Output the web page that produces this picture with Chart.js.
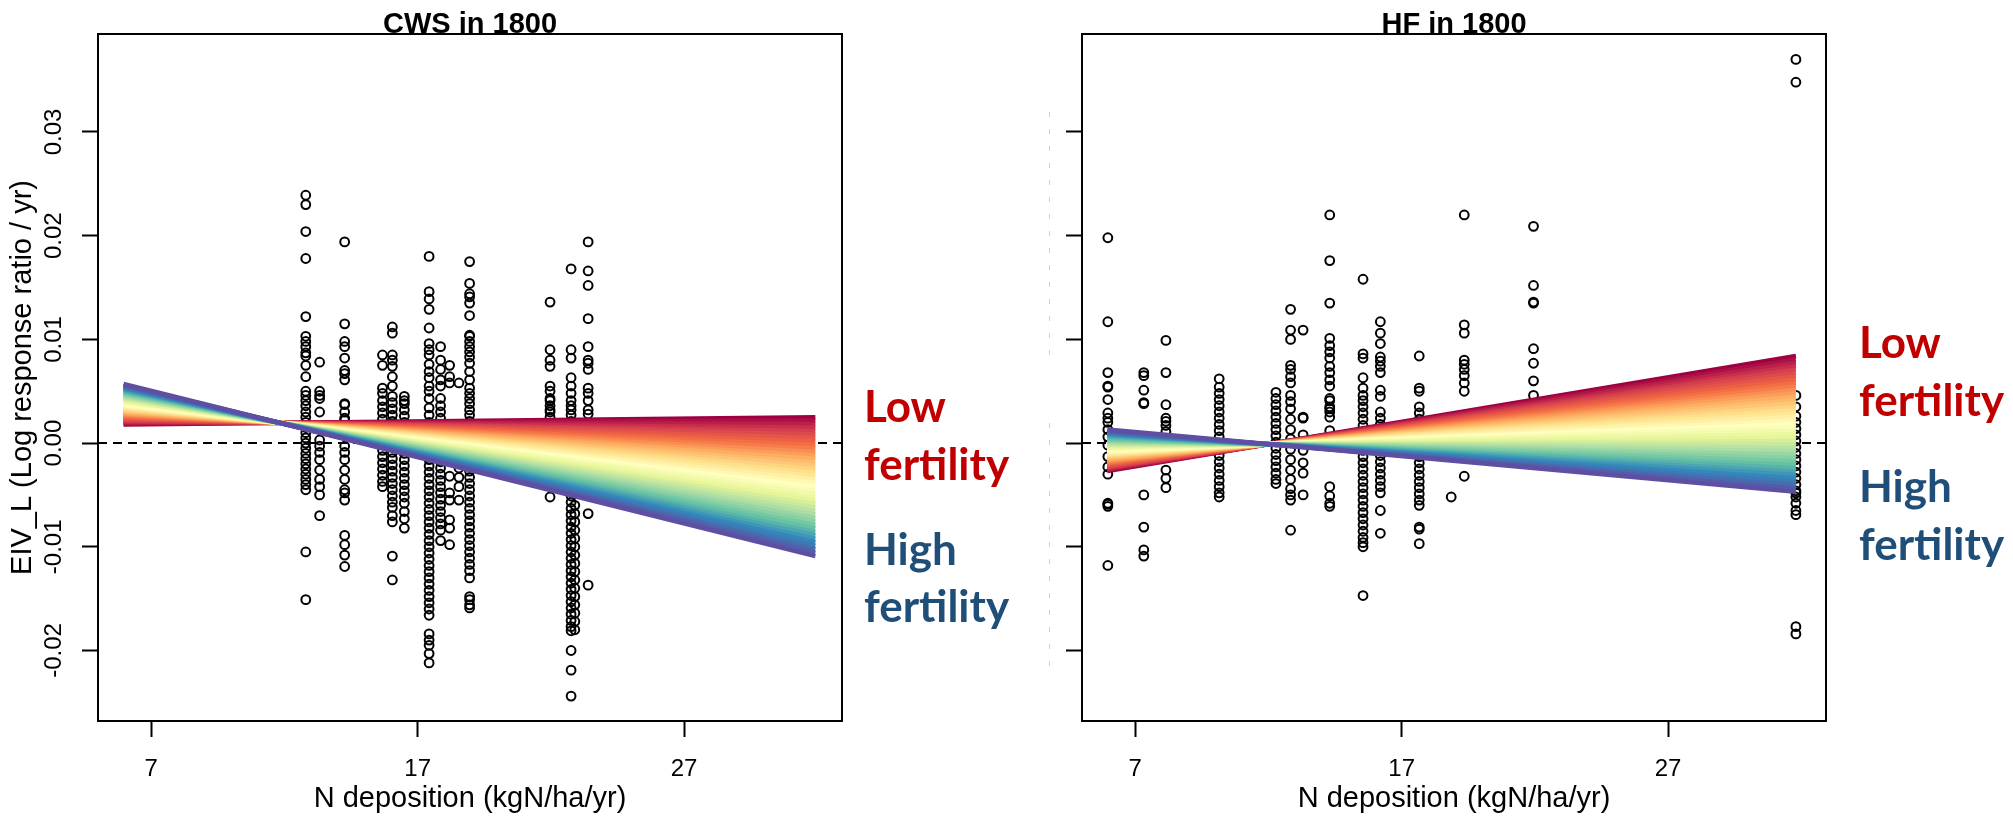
<!DOCTYPE html>
<html>
<head>
<meta charset="utf-8">
<script src="https://cdn.jsdelivr.net/npm/chart.js@4.4.1/dist/chart.umd.min.js"></script>
<style>
  html, body { margin: 0; padding: 0; background: #fff; }
  body { width: 2013px; height: 816px; position: relative; overflow: hidden; }
  canvas { position: absolute; top: 0; }
  #cws { left: 0; }
  #hf { left: 1040px; }
</style>
</head>
<body>
<canvas id="cws" width="1040" height="816"></canvas>
<canvas id="hf" width="973" height="816"></canvas>
<script>
// axes
const xTicks = [7, 17, 27];
const yTicks = [-0.02, -0.01, 0, 0.01, 0.02, 0.03];
const xRange = [5.0, 32.93];
const yRange = [-0.0268, 0.03945];

// CWS panel: plot columns (N deposition) and the log response ratios in each
const cwsColumns = [12.80, 13.32, 14.26, 15.68, 16.05, 16.50, 17.43, 17.86, 18.20, 18.55, 18.95, 21.97, 22.76, 22.90, 23.40];
const cwsValues = [
  [0.0239, 0.0230, 0.0204, 0.0178, 0.0122, 0.0103, 0.0098, 0.0093, 0.0087, 0.0084, 0.0075, 0.0064, 0.0050, 0.0046, 0.0041, 0.0036, 0.0030, 0.0025, 0.0020, 0.0015, 0.0010, 0.0005, 0.0000, -0.0005, -0.0010, -0.0015, -0.0020, -0.0025, -0.0030, -0.0035, -0.0040, -0.0045, -0.0105, -0.0151],
  [0.0078, 0.0050, 0.0046, 0.0043, 0.0030, 0.0003, -0.0003, -0.0009, -0.0016, -0.0026, -0.0035, -0.0042, -0.0050, -0.0070],
  [0.0194, 0.0115, 0.0098, 0.0093, 0.0082, 0.0070, 0.0067, 0.0061, 0.0038, 0.0030, 0.0024, 0.0037, 0.0022, 0.0009, -0.0003, -0.0009, -0.0016, -0.0026, -0.0035, -0.0045, -0.0048, -0.0055, -0.0089, -0.0098, -0.0108, -0.0119],
  [0.0085, 0.0075, 0.0053, 0.0048, 0.0041, 0.0035, 0.0029, 0.0023, 0.0017, 0.0011, 0.0005, -0.0001, -0.0007, -0.0013, -0.0019, -0.0025, -0.0031, -0.0037, -0.0042],
  [0.0112, 0.0106, 0.0085, 0.0080, 0.0074, 0.0064, 0.0055, 0.0045, 0.0039, 0.0033, 0.0027, 0.0021, 0.0015, 0.0009, 0.0003, -0.0003, -0.0009, -0.0015, -0.0021, -0.0027, -0.0033, -0.0039, -0.0045, -0.0051, -0.0057, -0.0062, -0.0070, -0.0076, -0.0109, -0.0132],
  [0.0045, 0.0041, 0.0038, 0.0032, 0.0026, 0.0020, 0.0014, 0.0008, 0.0002, -0.0004, -0.0010, -0.0016, -0.0022, -0.0028, -0.0034, -0.0040, -0.0046, -0.0052, -0.0058, -0.0066, -0.0073, -0.0082],
  [0.0180, 0.0146, 0.0139, 0.0129, 0.0111, 0.0096, 0.0090, 0.0085, 0.0076, 0.0069, 0.0063, 0.0055, 0.0050, 0.0043, 0.0034, 0.0027, 0.0020, 0.0014, 0.0008, 0.0002, -0.0004, -0.0010, -0.0016, -0.0022, -0.0028, -0.0034, -0.0040, -0.0046, -0.0052, -0.0058, -0.0064, -0.0070, -0.0076, -0.0082, -0.0088, -0.0094, -0.0100, -0.0106, -0.0112, -0.0118, -0.0124, -0.0130, -0.0136, -0.0142, -0.0148, -0.0154, -0.0160, -0.0166, -0.0184, -0.0190, -0.0195, -0.0203, -0.0212],
  [0.0093, 0.0080, 0.0071, 0.0061, 0.0055, 0.0043, 0.0036, 0.0030, 0.0024, 0.0018, 0.0012, 0.0006, 0.0000, -0.0006, -0.0012, -0.0018, -0.0024, -0.0030, -0.0036, -0.0042, -0.0048, -0.0054, -0.0060, -0.0066, -0.0072, -0.0078, -0.0084, -0.0094],
  [0.0075, 0.0064, 0.0058, -0.0032, -0.0048, -0.0055, -0.0074, -0.0082, -0.0098],
  [0.0058, -0.0006, -0.0015, -0.0024, -0.0033, -0.0042, -0.0055],
  [0.0175, 0.0154, 0.0144, 0.0141, 0.0135, 0.0123, 0.0104, 0.0103, 0.0098, 0.0093, 0.0088, 0.0083, 0.0077, 0.0069, 0.0061, 0.0053, 0.0048, 0.0043, 0.0038, 0.0032, 0.0027, 0.0021, 0.0015, 0.0009, 0.0003, -0.0003, -0.0009, -0.0015, -0.0021, -0.0027, -0.0033, -0.0039, -0.0045, -0.0051, -0.0057, -0.0063, -0.0069, -0.0075, -0.0081, -0.0087, -0.0093, -0.0099, -0.0105, -0.0111, -0.0117, -0.0123, -0.0130, -0.0148, -0.0151, -0.0156, -0.0159],
  [0.0136, 0.0090, 0.0080, 0.0074, 0.0055, 0.0050, 0.0043, 0.0036, 0.0030, 0.0025, 0.0041, 0.0032, -0.0052],
  [0.0168, 0.0090, 0.0082, 0.0063, 0.0055, 0.0048, 0.0041, 0.0036, 0.0032, 0.0027, 0.0021, 0.0015, 0.0009, 0.0003, -0.0003, -0.0009, -0.0015, -0.0021, -0.0027, -0.0033, -0.0039, -0.0045, -0.0051, -0.0057, -0.0063, -0.0069, -0.0075, -0.0081, -0.0087, -0.0093, -0.0099, -0.0105, -0.0111, -0.0117, -0.0123, -0.0129, -0.0135, -0.0141, -0.0147, -0.0153, -0.0159, -0.0165, -0.0171, -0.0177, -0.0181, -0.0200, -0.0219, -0.0244],
  [-0.0060, -0.0068, -0.0076, -0.0084, -0.0092, -0.0100, -0.0108, -0.0116, -0.0124, -0.0132, -0.0140, -0.0148, -0.0156, -0.0164, -0.0172, -0.0180],
  [0.0194, 0.0166, 0.0152, 0.0120, 0.0093, 0.0080, 0.0077, 0.0071, 0.0053, 0.0048, 0.0041, 0.0032, 0.0028, -0.0068, -0.0137]
];
// CWS fitted lines, low fertility (first) to high fertility (last)
const cwsFanX = [5.96, 31.93];
const cwsFanStart = [0.00180, 0.00190, 0.00199, 0.00209, 0.00219, 0.00229, 0.00239, 0.00248, 0.00258, 0.00268, 0.00278, 0.00287, 0.00297, 0.00307, 0.00317, 0.00326, 0.00336, 0.00346, 0.00356, 0.00365, 0.00375, 0.00385, 0.00395, 0.00404, 0.00414, 0.00424, 0.00434, 0.00443, 0.00453, 0.00463, 0.00473, 0.00482, 0.00492, 0.00502, 0.00512, 0.00521, 0.00531, 0.00541, 0.00551, 0.00560, 0.00570];
const cwsFanEnd = [0.00250, 0.00217, 0.00183, 0.00150, 0.00116, 0.00083, 0.00049, 0.00016, -0.00018, -0.00052, -0.00085, -0.00119, -0.00152, -0.00186, -0.00219, -0.00253, -0.00286, -0.00320, -0.00353, -0.00387, -0.00420, -0.00454, -0.00487, -0.00521, -0.00554, -0.00588, -0.00621, -0.00655, -0.00688, -0.00722, -0.00755, -0.00789, -0.00822, -0.00856, -0.00889, -0.00923, -0.00956, -0.00990, -0.01023, -0.01057, -0.01090];

// HF panel
const hfColumns = [5.97, 7.32, 8.15, 10.15, 12.28, 12.83, 13.30, 14.30, 15.55, 16.20, 17.66, 18.86, 19.35, 21.95, 31.80];
const hfValues = [
  [0.0198, 0.0117, 0.0068, 0.0055, 0.0054, 0.0042, 0.0029, 0.0024, 0.0020, 0.0013, 0.0006, -0.0002, -0.0013, -0.0023, -0.0030, -0.0058, -0.0059, -0.0061, -0.0118],
  [0.0068, 0.0065, 0.0051, 0.0039, 0.0038, -0.0050, -0.0081, -0.0103, -0.0109],
  [0.0099, 0.0068, 0.0037, 0.0024, 0.0021, 0.0017, 0.0011, 0.0003, -0.0005, -0.0014, -0.0026, -0.0034, -0.0043],
  [0.0062, 0.0054, 0.0048, 0.0042, 0.0036, 0.0030, 0.0024, 0.0018, 0.0012, 0.0006, 0.0000, -0.0006, -0.0012, -0.0018, -0.0024, -0.0030, -0.0036, -0.0042, -0.0048, -0.0052],
  [0.0049, 0.0043, 0.0037, 0.0031, 0.0025, 0.0019, 0.0013, 0.0007, 0.0001, -0.0005, -0.0011, -0.0017, -0.0023, -0.0029, -0.0035, -0.0039],
  [0.0129, 0.0109, 0.0100, 0.0075, 0.0071, 0.0064, 0.0058, 0.0046, 0.0040, 0.0033, 0.0023, 0.0013, 0.0004, -0.0006, -0.0016, -0.0026, -0.0035, -0.0044, -0.0050, -0.0055, -0.0084],
  [0.0109, 0.0025, 0.0024, 0.0008, -0.0007, -0.0019, -0.0029, -0.0050],
  [0.0220, 0.0176, 0.0135, 0.0101, 0.0094, 0.0088, 0.0082, 0.0074, 0.0068, 0.0061, 0.0055, 0.0043, 0.0035, 0.0030, 0.0025, 0.0041, 0.0033, 0.0012, -0.0042, -0.0051, -0.0058, -0.0061],
  [0.0158, 0.0086, 0.0082, 0.0063, 0.0053, 0.0046, 0.0041, 0.0035, 0.0029, 0.0023, 0.0017, 0.0011, 0.0005, -0.0001, -0.0007, -0.0013, -0.0019, -0.0025, -0.0031, -0.0037, -0.0043, -0.0049, -0.0055, -0.0061, -0.0067, -0.0073, -0.0079, -0.0085, -0.0091, -0.0096, -0.0100, -0.0147],
  [0.0117, 0.0106, 0.0096, 0.0083, 0.0079, 0.0074, 0.0068, 0.0051, 0.0045, 0.0030, 0.0024, 0.0018, 0.0012, 0.0006, 0.0000, -0.0006, -0.0012, -0.0018, -0.0024, -0.0030, -0.0036, -0.0042, -0.0048, -0.0065, -0.0087],
  [0.0084, 0.0053, 0.0050, 0.0035, 0.0029, 0.0023, 0.0017, 0.0011, 0.0005, -0.0001, -0.0007, -0.0013, -0.0019, -0.0025, -0.0031, -0.0037, -0.0043, -0.0049, -0.0055, -0.0060, -0.0081, -0.0083, -0.0097],
  [-0.0052],
  [0.0220, 0.0114, 0.0106, 0.0080, 0.0076, 0.0071, 0.0065, 0.0058, 0.0050, -0.0032],
  [0.0209, 0.0152, 0.0136, 0.0135, 0.0091, 0.0077, 0.0060, 0.0046],
  [0.0370, 0.0348, 0.0046, 0.0035, 0.0026, 0.0020, 0.0014, 0.0008, 0.0002, -0.0004, -0.0010, -0.0016, -0.0022, -0.0028, -0.0034, -0.0040, -0.0046, -0.0048, -0.0052, -0.0058, -0.0065, -0.0069, -0.0177, -0.0184]
];
const hfFanX = [5.95, 31.80];
const hfFanStart = [-0.0027, -0.0026, -0.0025, -0.0024, -0.0023, -0.0022, -0.0021, -0.0020, -0.0019, -0.0018, -0.0017, -0.0016, -0.0015, -0.0014, -0.0013, -0.0012, -0.0011, -0.0010, -0.0009, -0.0008, -0.0007, -0.0006, -0.0005, -0.0004, -0.0003, -0.0002, -0.0001, 0.0000, 0.0001, 0.0002, 0.0003, 0.0004, 0.0005, 0.0006, 0.0007, 0.0008, 0.0009, 0.0010, 0.0011, 0.0012, 0.0013];
const hfFanEnd = [0.00840, 0.00807, 0.00775, 0.00742, 0.00709, 0.00676, 0.00644, 0.00611, 0.00578, 0.00545, 0.00513, 0.00480, 0.00447, 0.00414, 0.00382, 0.00349, 0.00316, 0.00283, 0.00251, 0.00218, 0.00185, 0.00152, 0.00120, 0.00087, 0.00054, 0.00021, -0.00011, -0.00044, -0.00077, -0.00110, -0.00142, -0.00175, -0.00208, -0.00241, -0.00273, -0.00306, -0.00339, -0.00372, -0.00404, -0.00437, -0.00470];

// colorbrewer Spectral, red end first
const spectral = ['#9E0142', '#D53E4F', '#F46D43', '#FDAE61', '#FEE08B', '#FFFFBF', '#E6F598', '#ABDDA4', '#66C2A5', '#3288BD', '#5E4FA2'];

function spectralAt(t) {
    const p = t * (spectral.length - 1);
    const i = Math.min(Math.floor(p), spectral.length - 2);
    const f = p - i;
    const a = parseInt(spectral[i].slice(1), 16), b = parseInt(spectral[i + 1].slice(1), 16);
    const ch = s => Math.round(((a >> s) & 255) * (1 - f) + ((b >> s) & 255) * f);
    return `rgb(${ch(16)},${ch(8)},${ch(0)})`;
}

Chart.defaults.font.family = '"Liberation Sans", Arial, sans-serif';
Chart.defaults.color = '#000';

function makePanel(id, p) {
    const pts = [];
    p.columns.forEach((x, i) => p.values[i].forEach(v => pts.push({ x: x, y: v })));

    const datasets = [{
        data: pts,
        order: 1000,
        showLine: false,
        pointRadius: 4.4,
        pointHoverRadius: 4.4,
        pointBorderWidth: 2,
        pointBorderColor: '#000',
        pointBackgroundColor: 'rgba(0,0,0,0)'
    }];
    const n = p.fanStart.length;
    p.fanStart.forEach((s, i) => {
        datasets.push({
            data: [{ x: p.fanX[0], y: s }, { x: p.fanX[1], y: p.fanEnd[i] }],
            showLine: true,
            borderColor: spectralAt(i / (n - 1)),
            borderWidth: 4.5,
            borderCapStyle: 'butt',
            pointRadius: 0,
            order: n - 1 - i   // high fertility on top
        });
    });

    const decor = {
        id: 'decor',
        beforeDatasetsDraw(chart) {
            const { ctx, chartArea: a } = chart;
            const y0 = chart.scales.y.getPixelForValue(0);
            ctx.save();
            ctx.strokeStyle = '#000';
            ctx.lineWidth = 2;
            ctx.setLineDash([9, 6]);
            ctx.beginPath();
            ctx.moveTo(a.left, y0);
            ctx.lineTo(a.right, y0);
            ctx.stroke();
            ctx.restore();
        },
        afterDraw(chart) {
            const { ctx, chartArea: a } = chart;
            ctx.save();
            ctx.strokeStyle = '#000';
            ctx.lineWidth = 2;
            ctx.strokeRect(a.left, a.top, a.right - a.left, a.bottom - a.top);

            ctx.fillStyle = '#000';
            ctx.font = 'bold 29px "Liberation Sans", Arial, sans-serif';
            ctx.textAlign = 'center';
            ctx.textBaseline = 'alphabetic';
            ctx.fillText(p.title, (a.left + a.right) / 2, 33);

            ctx.textAlign = 'left';
            ctx.font = 'bold 44px Lato, "Open Sans", sans-serif';
            ctx.fillStyle = '#C00000';
            ctx.fillText('Low', p.noteX, p.noteY[0]);
            ctx.fillText('fertility', p.noteX, p.noteY[1]);
            ctx.fillStyle = '#1F4E79';
            ctx.fillText('High', p.noteX, p.noteY[2]);
            ctx.fillText('fertility', p.noteX, p.noteY[3]);

            if (p.ghost) {
                ctx.strokeStyle = '#d0d0d0';
                ctx.lineWidth = 1;
                ctx.setLineDash([5, 12]);
                p.ghost.forEach(g => {
                    ctx.beginPath();
                    ctx.moveTo(9.5, g[0]);
                    ctx.lineTo(9.5, g[1]);
                    ctx.stroke();
                });
            }
            ctx.restore();
        }
    };

    return new Chart(document.getElementById(id), {
        type: 'scatter',
        data: { datasets: datasets },
        plugins: [decor],
        options: {
            responsive: false,
            animation: false,
            devicePixelRatio: 1,
            layout: { padding: { top: 34, left: 0, right: p.rightPad, bottom: 0 } },
            plugins: { legend: { display: false }, tooltip: { enabled: false } },
            scales: {
                x: {
                    type: 'linear',
                    min: xRange[0],
                    max: xRange[1],
                    afterBuildTicks: s => { s.ticks = xTicks.map(v => ({ value: v })); },
                    afterFit: s => { s.height = 95; },
                    border: { display: false },
                    grid: { drawOnChartArea: false, tickLength: 16, tickWidth: 2, tickColor: '#000' },
                    ticks: { font: { size: 24 }, padding: 18, maxRotation: 0, autoSkip: false },
                    title: { display: true, text: 'N deposition (kgN/ha/yr)', font: { size: 29 }, padding: 0 }
                },
                y: {
                    type: 'linear',
                    min: yRange[0],
                    max: yRange[1],
                    afterBuildTicks: s => { s.ticks = yTicks.map(v => ({ value: v })); },
                    afterFit: s => { s.width = p.axisWidth; },
                    border: { display: false },
                    grid: { drawOnChartArea: false, tickLength: 16, tickWidth: 2, tickColor: '#000' },
                    ticks: {
                        display: p.showY,
                        minRotation: 90,
                        maxRotation: 90,
                        crossAlign: 'center',
                        padding: 0,
                        autoSkip: false,
                        font: { size: 24 },
                        callback: v => v.toFixed(2)
                    },
                    title: {
                        display: p.showY,
                        text: 'EIV_L (Log response ratio / yr)',
                        font: { size: 29 },
                        padding: { top: 6, bottom: 0 }
                    }
                }
            }
        }
    });
}

function draw() {
    makePanel('cws', {
        title: 'CWS in 1800',
        columns: cwsColumns, values: cwsValues,
        fanX: cwsFanX, fanStart: cwsFanStart, fanEnd: cwsFanEnd,
        showY: true, axisWidth: 98, rightPad: 198,
        noteX: 864, noteY: [422, 480, 565, 622]
    });
    makePanel('hf', {
        title: 'HF in 1800',
        columns: hfColumns, values: hfValues,
        fanX: hfFanX, fanStart: hfFanStart, fanEnd: hfFanEnd,
        showY: false, axisWidth: 42, rightPad: 187,
        noteX: 819, noteY: [358, 416, 502, 560],
        ghost: [[112, 358], [423, 667]]
    });
}

Promise.all([
    document.fonts.load('bold 44px Lato'),
    document.fonts.load('24px "Liberation Sans"'),
    document.fonts.load('bold 29px "Liberation Sans"')
]).then(draw, draw);
</script>
</body>
</html>
